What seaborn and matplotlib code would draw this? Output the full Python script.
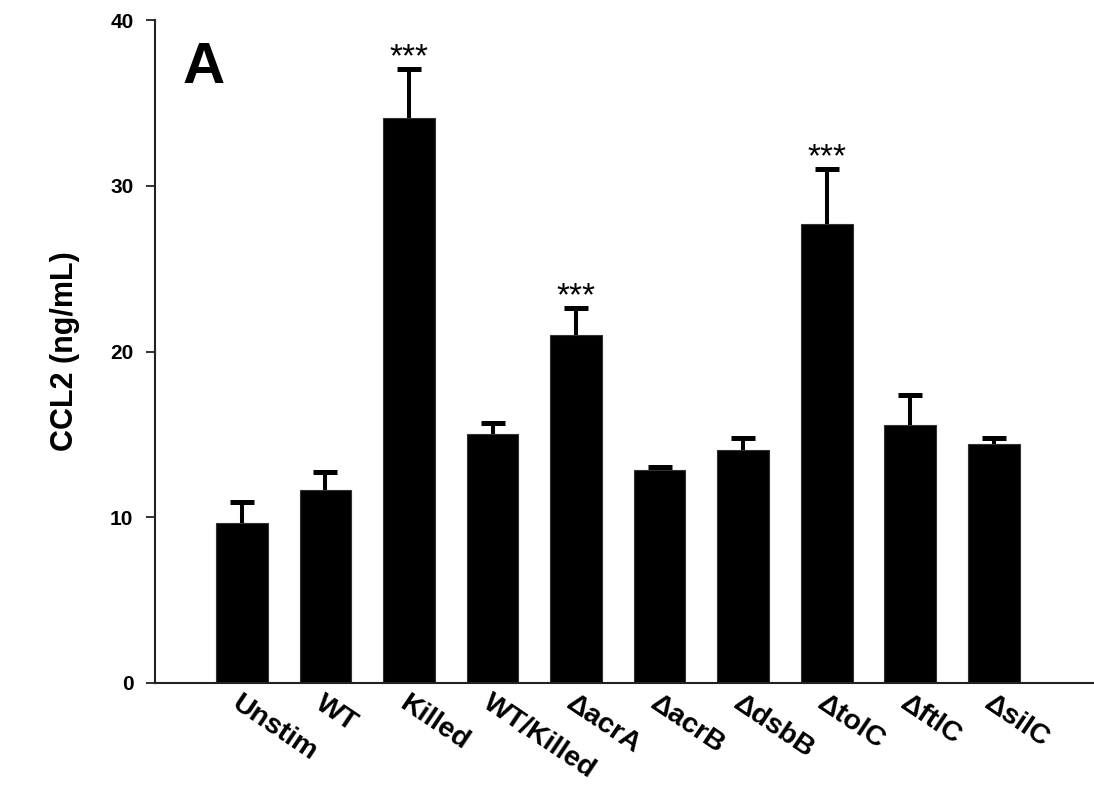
import numpy as np
import pandas as pd
import matplotlib
matplotlib.use("Agg")
import matplotlib.pyplot as plt
import seaborn as sns

categories = ["Unstim", "WT", "Killed", "WT/Killed", "ΔacrA", "ΔacrB",
              "ΔdsbB", "ΔtolC", "ΔftlC", "ΔsilC"]
means = [9.63, 11.64, 34.1, 15.02, 21.0, 12.85, 14.06, 27.67, 15.57, 14.42]
errors = [1.31, 1.11, 2.92, 0.65, 1.65, 0.16, 0.74, 3.33, 1.81, 0.34]
significance = ["", "", "***", "", "***", "", "", "***", "", ""]
y_ticks = [0, 10, 20, 30, 40]
y_label = "CCL2 (ng/mL)"
panel_label = "A"

sns.set_style("ticks")
plt.rcParams['font.family'] = ['Liberation Sans', 'DejaVu Sans']
plt.rcParams.update({"text.color": "black", "axes.labelcolor": "black",
                     "xtick.color": "black", "ytick.color": "black"})

df = pd.DataFrame({"group": categories, "value": means})

fig = plt.figure(figsize=(10.94, 7.86), dpi=100)
ax = fig.add_axes([155 / 1094, (786 - 683) / 786, 939 / 1094, 663 / 786])

sns.barplot(data=df, x="group", y="value", color="black", width=0.62,
            errorbar=None, saturation=1, edgecolor="#333333", linewidth=0.8, ax=ax)

pos = np.arange(len(categories))
_, caplines, _ = ax.errorbar(pos, means, yerr=[np.zeros(len(errors)), errors],
                             fmt="none", ecolor="black", elinewidth=2.9,
                             capsize=8.3, capthick=3.6, zorder=3)
for cl in caplines:
    if np.allclose(cl.get_ydata(), means):
        cl.set_visible(False)

for x, m, e, s in zip(pos, means, errors, significance):
    if s:
        ax.annotate(s, xy=(x, m + e), xytext=(0, 2), textcoords="offset points",
                    ha="center", va="baseline", fontsize=24, color="black")

ax.set_xlim(-1.04, 10.2)
ax.set_ylim(0, 40)
ax.set_yticks(y_ticks)
ax.set_yticklabels([str(t) for t in y_ticks], fontsize=15, fontweight="bold")
ax.tick_params(axis="y", direction="out", length=6.5, width=1.3, pad=9,
               color="#222222", labelcolor="black")
ax.tick_params(axis="x", length=0, pad=5, labelcolor="black")
ax.set_xticks(pos)
ax.set_xticklabels(categories, fontsize=20.5, fontweight="bold", rotation=-34,
                   ha="left", va="top", rotation_mode="anchor")
ax.set_xlabel("")
ax.set_ylabel(y_label, fontsize=22, fontweight="bold", color="black")
ax.yaxis.set_label_coords(-0.08, 0.5)

for side in ["top", "right"]:
    ax.spines[side].set_visible(False)
ax.spines["left"].set_linewidth(1.5)
ax.spines["left"].set_color("#222222")
ax.spines["bottom"].set_linewidth(1.5)
ax.spines["bottom"].set_color("#222222")

ax.text(0.029, 0.905, panel_label, transform=ax.transAxes, fontsize=42,
        fontweight="bold", ha="left", va="baseline", color="black")

fig.savefig("out.png", dpi=100)
